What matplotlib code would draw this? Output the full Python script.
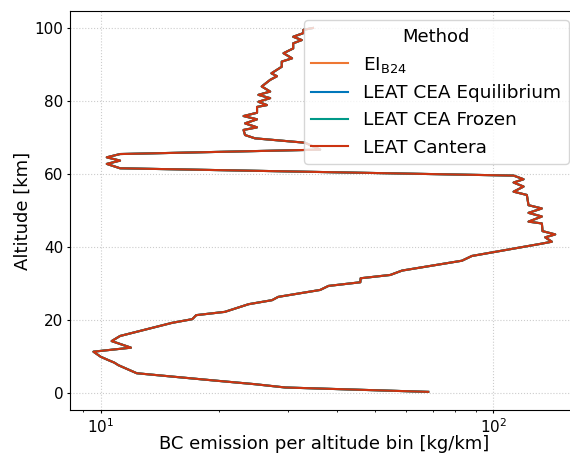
import numpy as np
import matplotlib
matplotlib.use("Agg")
import matplotlib.pyplot as plt

# altitude bins [km] and BC emission per bin [kg/km]
altitude = [0.4, 1.6, 2.5, 3.5, 4.5, 5.5, 7.7, 8.4, 9.1, 10.0,
            11.4, 12.5, 14.3, 15.7, 19.3, 20.3, 21.4, 22.3, 24.4, 25.5,
            26.4, 28.3, 29.4, 30.4, 31.5, 32.4, 33.6, 36.3, 37.6, 40.9,
            41.5, 42.7, 43.5, 44.4, 46.5, 47.0, 48.4, 49.4, 50.6, 51.5,
            54.3, 55.2, 56.6, 57.7, 58.6, 59.6, 61.6, 62.8, 63.7, 64.6,
            65.5, 66.7, 68.6, 69.8, 70.7, 72.1, 72.8, 73.9, 75.0, 75.9,
            76.8, 78.4, 78.9, 79.8, 80.8, 81.7, 82.6, 84.0, 85.8, 86.8,
            87.6, 89.4, 90.8, 91.7, 93.1, 94.4, 95.8, 96.7, 97.6, 98.6,
            99.5, 100.0]
emission = [68.2, 29.5, 24.7, 19.5, 15.5, 12.35, 11.09, 10.83, 10.45, 10.0,
            9.58, 11.94, 10.66, 11.2, 15.2, 17.1, 17.5, 20.7, 23.8, 27.3,
            28.3, 36.2, 38.0, 45.8, 45.9, 54.6, 58.5, 83.1, 88.1, 131.5,
            140.8, 135.4, 143.6, 133.3, 132.8, 122.8, 132.8, 122.8, 132.8, 122.8,
            121.6, 112.5, 119.3, 112.5, 119.3, 112.5, 11.2, 10.36, 11.2, 10.36,
            11.2, 36.2, 33.1, 24.7, 23.3, 23.1, 25.0, 23.3, 25.0, 23.1,
            25.0, 25.0, 26.5, 25.2, 27.0, 25.2, 27.0, 25.7, 27.0, 28.1,
            27.2, 28.9, 28.9, 30.7, 29.2, 30.9, 30.9, 32.5, 30.9, 32.8,
            32.8, 34.7]

methods = ["EI$_{\\mathrm{B24}}$", "LEAT CEA Equilibrium", "LEAT CEA Frozen", "LEAT Cantera"]
colors = ["#EE7733", "#0077BB", "#009988", "#CC3311"]

fig = plt.figure(figsize=(5.7, 4.55), dpi=100)
ax = fig.add_axes([0.1228, 0.0982, 0.891, 0.8776])

for name, c in zip(methods, colors):
    ax.plot(emission, altitude, color=c, lw=1.5, label=name)

ax.set_xscale("log")
ax.set_xlim(8.35, 164)
ax.set_ylim(-4.65, 104.65)
ax.grid(True, which="major", ls=":", color="#cccccc", lw=0.8)
ax.tick_params(labelsize=11, length=2.45, pad=2.45)
ax.tick_params(which="minor", length=1.4)
ax.set_xlabel("BC emission per altitude bin [kg/km]", fontsize=13, labelpad=-0.5)
ax.set_ylabel("Altitude [km]", fontsize=13, labelpad=1.5)
ax.legend(title="Method", loc="upper right", fontsize=13.3, title_fontsize=13)

fig.savefig("out.png", dpi=100)
